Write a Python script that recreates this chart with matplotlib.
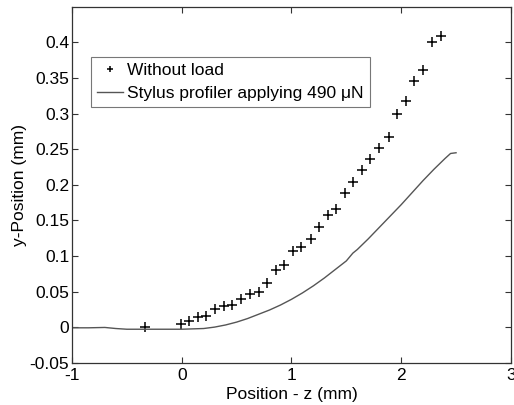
import matplotlib
matplotlib.use("Agg")
import matplotlib.pyplot as plt

# "Without load" measurements (+ markers)
z_free = [-0.33, -0.01, 0.07, 0.15, 0.225, 0.305, 0.385, 0.46, 0.54, 0.62, 0.70,
          0.775, 0.855, 0.935, 1.015, 1.09, 1.175, 1.25, 1.33, 1.405, 1.49, 1.565,
          1.645, 1.72, 1.80, 1.885, 1.96, 2.04, 2.12, 2.198, 2.28, 2.36]
y_free = [0.0, 0.0045, 0.008, 0.014, 0.0155, 0.025, 0.0295, 0.031, 0.040, 0.046, 0.049,
          0.062, 0.080, 0.087, 0.107, 0.113, 0.124, 0.141, 0.157, 0.1665, 0.189, 0.204,
          0.221, 0.236, 0.252, 0.267, 0.299, 0.318, 0.346, 0.362, 0.401, 0.409]

# stylus profile under 490 uN
z_stylus = [-1.0, -0.85, -0.7, -0.6, -0.5, -0.3, -0.1, 0.0, 0.2, 0.3, 0.4, 0.5, 0.6,
            0.7, 0.8, 0.9, 1.0, 1.1, 1.2, 1.3, 1.4, 1.5, 1.56, 1.6, 1.7, 1.8, 1.9,
            2.0, 2.1, 2.2, 2.3, 2.4, 2.45, 2.5]
y_stylus = [-0.001, -0.001, -0.0005, -0.002, -0.003, -0.003, -0.003, -0.003, -0.002,
            0.0, 0.003, 0.007, 0.012, 0.018, 0.024, 0.031, 0.039, 0.048, 0.058, 0.069,
            0.081, 0.093, 0.104, 0.109, 0.124, 0.140, 0.156, 0.172, 0.189, 0.206,
            0.222, 0.237, 0.244, 0.245]

plt.rcParams["font.family"] = ["Liberation Sans", "DejaVu Sans"]
plt.rcParams["font.size"] = 12.5

fig = plt.figure(figsize=(5.14, 4.05), dpi=100)
ax = fig.add_axes([0.140, 0.1045, 0.854, 0.8785])

ax.plot(z_free, y_free, "+", color="black", ms=7, mew=1.1, label="Without load")
ax.plot(z_stylus, y_stylus, "-", color="#555555", lw=1.0,
        label="Stylus profiler applying 490 \u03bcN")

ax.set_xlim(-1, 3)
ax.set_ylim(-0.05, 0.45)
ax.set_xticks([-1, 0, 1, 2, 3])
ax.set_xticklabels(["-1", "0", "1", "2", "3"])
ax.set_yticks([-0.05, 0, 0.05, 0.1, 0.15, 0.2, 0.25, 0.3, 0.35, 0.4])
ax.set_yticklabels(["-0.05", "0", "0.05", "0.1", "0.15", "0.2", "0.25", "0.3", "0.35", "0.4"])
ax.tick_params(direction="in", top=True, right=True, length=4, width=0.8,
               color="#333333")
ax.tick_params(axis="x", pad=4)
ax.tick_params(axis="y", pad=2)
for s in ax.spines.values():
    s.set_color("#333333")
    s.set_linewidth(0.9)

ax.set_xlabel("Position - z (mm)", labelpad=3)
ax.set_ylabel("y-Position (mm)", labelpad=2)

leg = ax.legend(loc="upper left", bbox_to_anchor=(0.043, 0.86), fancybox=False,
                framealpha=1, edgecolor="#777777", handlelength=1.5,
                borderpad=0.35, labelspacing=0.45, handletextpad=0.25,
                borderaxespad=0, markerscale=0.7)
leg.get_frame().set_linewidth(0.8)

fig.savefig("out.png", dpi=100)
